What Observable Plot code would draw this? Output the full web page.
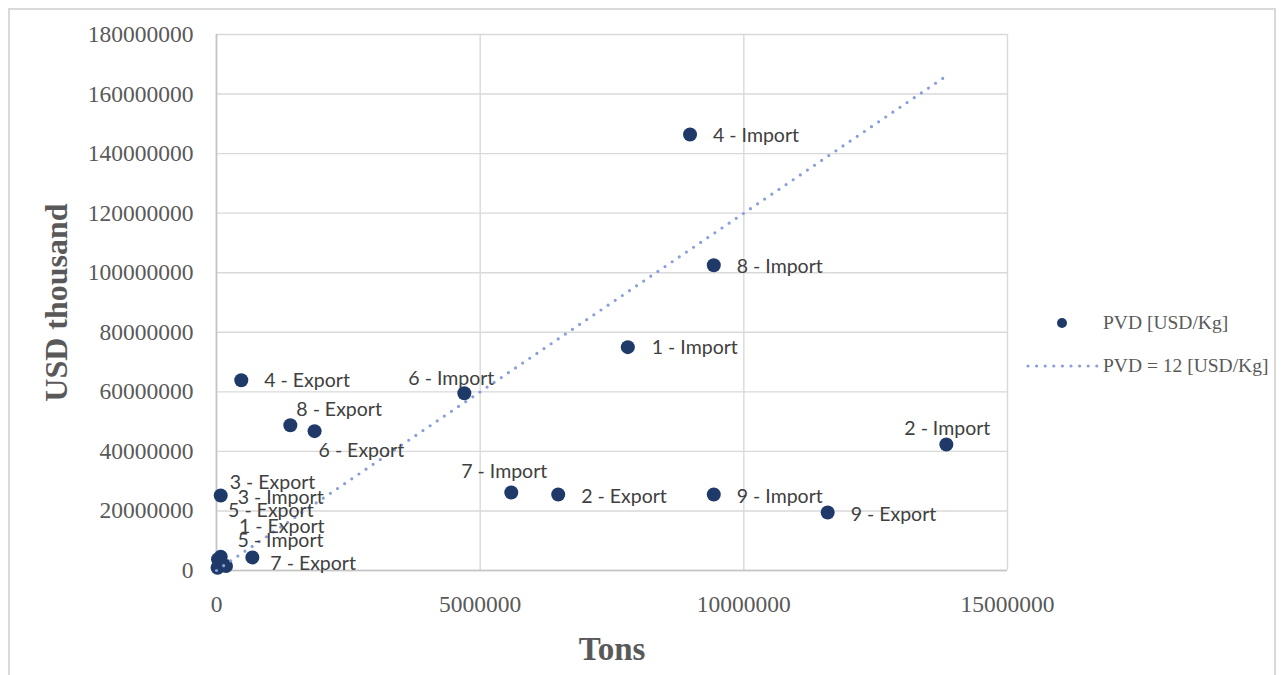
<!DOCTYPE html>
<html>
<head>
<meta charset="utf-8">
<script src="https://cdn.jsdelivr.net/npm/d3@7"></script>
<script src="https://cdn.jsdelivr.net/npm/@observablehq/plot@0.6"></script>
<style>
  html, body { margin: 0; padding: 0; background: #fff; }
  #wrap { position: relative; width: 1286px; height: 675px; overflow: hidden; }
  #border { position: absolute; left: 8px; top: 8px; width: 1268px; height: 700px;
            border: 2px solid #d9d9d9; box-sizing: border-box; }
  #chart { position: absolute; left: 0; top: 0; }
  .legend { position: absolute; left: 1020px; font-family: "Liberation Serif", serif;
            font-size: 19.5px; color: #595959; }
  .legend .row { position: absolute; left: 0; white-space: nowrap; height: 24px; }
  .legend svg { position: absolute; left: 0; top: 0; }
  .legend span { position: absolute; left: 83px; top: 0; line-height: 24px; }
</style>
</head>
<body>
<div id="wrap">
  <div id="border"></div>
  <div id="chart"></div>
  <div class="legend" style="top:0">
    <div class="row" style="top:311px">
      <svg width="80" height="24"><circle cx="42" cy="12" r="5" fill="#1f3a68"></circle></svg>
      <span>PVD [USD/Kg]</span>
    </div>
    <div class="row" style="top:354px">
      <svg width="80" height="24"><line x1="8" x2="77" y1="12" y2="12" stroke="#889fda"
        stroke-width="3.2" stroke-linecap="round" stroke-dasharray="0 8.6"></line></svg>
      <span>PVD = 12 [USD/Kg]</span>
    </div>
  </div>
</div>
<script>
// Trade points: tons vs. value (USD thousand), by country number and flow
const pointNames = [
  "4 - Import", "8 - Import", "1 - Import", "6 - Import", "2 - Import",
  "7 - Import", "9 - Import", "3 - Import", "5 - Import",
  "4 - Export", "8 - Export", "6 - Export", "2 - Export", "9 - Export",
  "7 - Export", "3 - Export", "5 - Export", "1 - Export"
];
const tons = [
  8.98e6, 9.43e6, 7.80e6, 4.70e6, 13.84e6,
  5.59e6, 9.43e6, 0.08e6, 0.02e6,
  0.47e6, 1.40e6, 1.86e6, 6.48e6, 11.59e6,
  0.68e6, 0.08e6, 0.03e6, 0.18e6
];
const usdThousand = [
  146.4e6, 102.5e6, 75.0e6, 59.5e6, 42.3e6,
  26.2e6, 25.5e6, 25.2e6, 0.9e6,
  63.9e6, 48.8e6, 46.8e6, 25.5e6, 19.5e6,
  4.4e6, 4.6e6, 3.8e6, 1.5e6
];

// Reference price line: 12 USD/kg  ->  USD thousand = 12 * tons
const pvdReference = 12;
const referenceEndTons = 13.8e6;

const xTicks = [0, 5e6, 10e6, 15e6];
const yTicks = [0, 20e6, 40e6, 60e6, 80e6, 100e6, 120e6, 140e6, 160e6, 180e6];

const points = pointNames.map((name, i) => ({name, tons: tons[i], usd: usdThousand[i]}));
const reference = [0, referenceEndTons].map(t => ({tons: t, usd: pvdReference * t}));

// Label placement (pixel offsets from each dot: [dx, dy])
const labelOffset = {
  "4 - Import": [23, 1], "8 - Import": [23, 1], "1 - Import": [24, 1],
  "6 - Import": [-56, -15], "2 - Import": [-42, -16], "7 - Import": [-50, -21],
  "9 - Import": [23, 2], "3 - Import": [17, 2], "5 - Import": [20, -27],
  "4 - Export": [23, 1], "8 - Export": [6, -15], "6 - Export": [4, 20],
  "2 - Export": [23, 2], "9 - Export": [23, 2], "7 - Export": [18, 6],
  "3 - Export": [9, -74], "5 - Export": [10, -48], "1 - Export": [13, -39]
};

const fmt = d3.format("d");
const labelMarks = points.map(p => Plot.text([p], {
  x: "tons", y: "usd", text: "name",
  dx: labelOffset[p.name][0], dy: labelOffset[p.name][1],
  textAnchor: "start", fontFamily: "Lato, 'Open Sans', sans-serif",
  fontSize: 19.5, fill: "#404040"
}));

const chart = Plot.plot({
  width: 1286,
  height: 675,
  marginLeft: 216,
  marginRight: 279,
  marginTop: 34,
  marginBottom: 105,
  style: {fontFamily: "'Liberation Serif', serif", fontSize: "23.5px", color: "#595959", background: "transparent"},
  x: {domain: [0, 15e6]},
  y: {domain: [0, 180e6]},
  marks: [
    Plot.ruleY(yTicks, {stroke: "#d9d9d9", strokeWidth: 1.4}),
    Plot.ruleX(xTicks, {stroke: "#d9d9d9", strokeWidth: 1.4}),
    Plot.ruleX([0], {stroke: "#c4c4c4", strokeWidth: 1.6}),
    Plot.ruleY([0], {stroke: "#c4c4c4", strokeWidth: 1.6}),
    Plot.axisY(yTicks, {tickSize: 0, tickPadding: 23, tickFormat: fmt, label: null}),
    Plot.axisX(xTicks, {tickSize: 0, tickPadding: 25, tickFormat: fmt, label: null}),
    Plot.text(["USD thousand"], {frameAnchor: "left", dx: -160, rotate: -90,
      textAnchor: "middle", lineAnchor: "middle",
      fontFamily: "'Liberation Serif', serif", fontWeight: "bold", fontSize: 32, fill: "#595959"}),
    Plot.text(["Tons"], {frameAnchor: "bottom", dy: 79,
      textAnchor: "middle", lineAnchor: "middle",
      fontFamily: "'Liberation Serif', serif", fontWeight: "bold", fontSize: 33, fill: "#595959"}),
    Plot.dot(points, {x: "tons", y: "usd", r: 7, fill: "#1f3a68"}),
    Plot.line(reference, {x: "tons", y: "usd", stroke: "#889fda", strokeWidth: 3.2,
      strokeDasharray: "0 8.6", strokeLinecap: "round"}),
    ...labelMarks
  ]
});
document.getElementById("chart").appendChild(chart);
</script>
</body>
</html>
